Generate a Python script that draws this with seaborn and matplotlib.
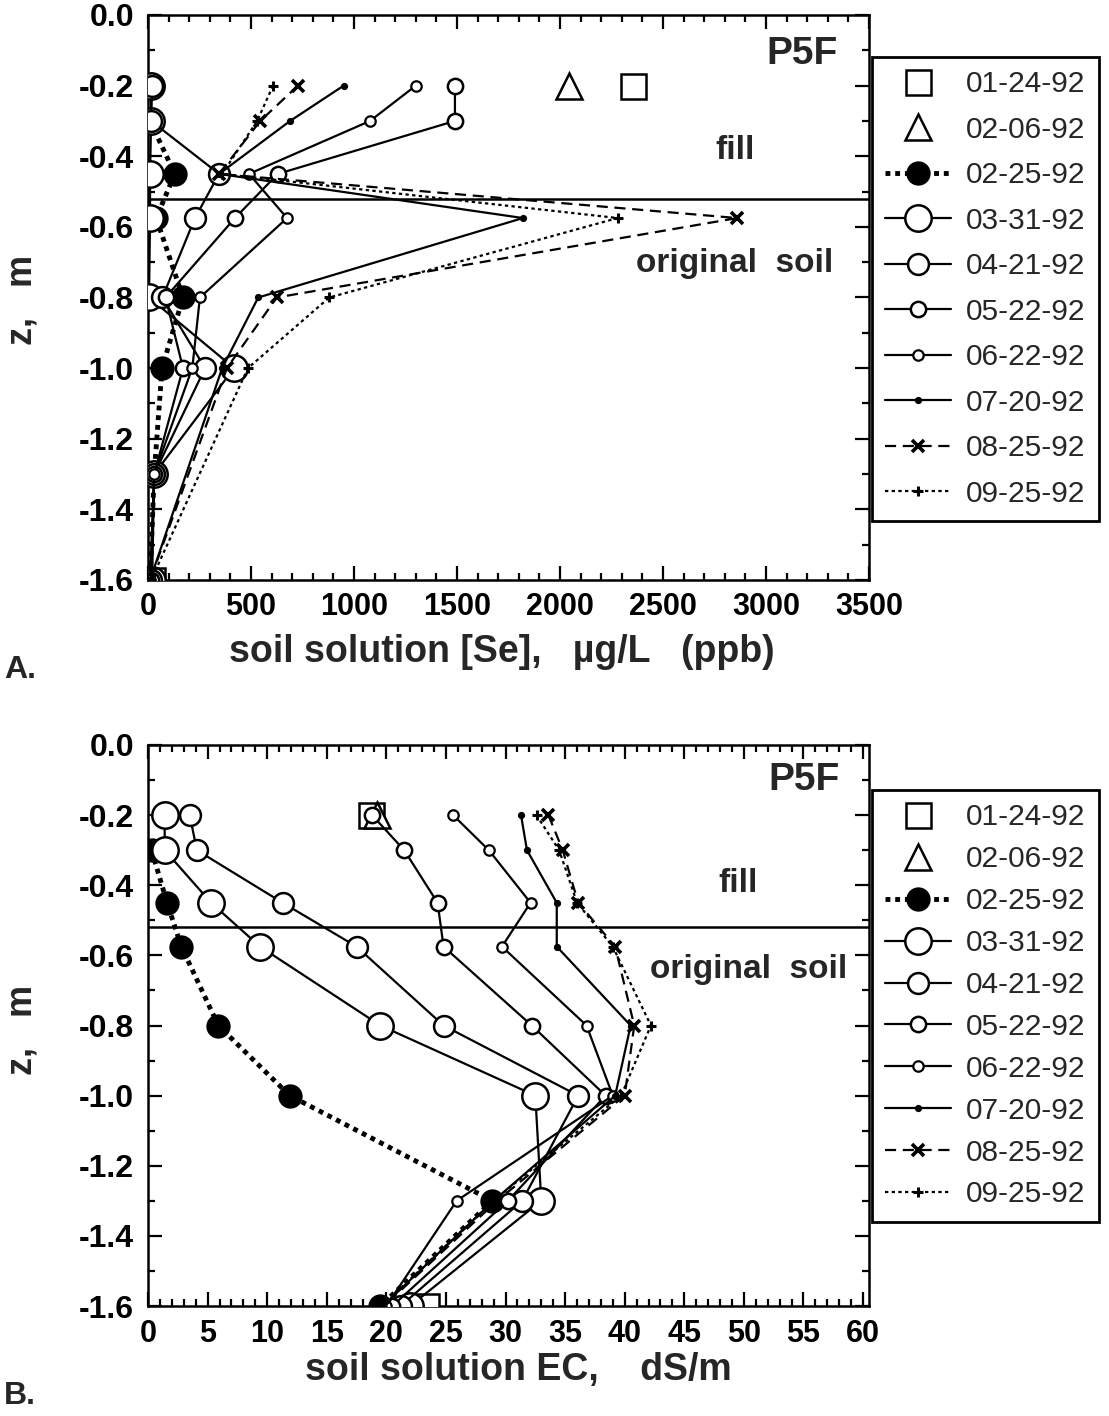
import numpy as np
import pandas as pd
import matplotlib
matplotlib.use("Agg")
import matplotlib.pyplot as plt
import seaborn as sns
from matplotlib.lines import Line2D
from matplotlib.ticker import MultipleLocator, FormatStrFormatter

nan = np.nan

# sampling dates and lysimeter depths (m)
DATES = ["01-24-92", "02-06-92", "02-25-92", "03-31-92", "04-21-92",
         "05-22-92", "06-22-92", "07-20-92", "08-25-92", "09-25-92"]
DEPTHS = [-0.2, -0.3, -0.45, -0.575, -0.8, -1.0, -1.3, -1.6]

# panel A: soil solution [Se], ug/L
se_0124 = [2355, nan, nan, nan, nan, nan, nan, 18]
se_0206 = [2045, nan, nan, nan, nan, nan, nan, nan]
se_0225 = [nan, 10, 130, 40, 170, 68, 30, 10]
se_0331 = [15, 15, 10, 10, 5, 418, 30, 20]
se_0421 = [20, 15, 345, 228, 70, 277, 30, 15]
se_0522 = [1490, 1490, 630, 422, 85, 170, 30, 15]
se_0622 = [1300, 1078, 490, 675, 252, 215, 30, 10]
se_0720 = [950, 690, 345, 1820, 535, 360, nan, 10]
se_0825 = [728, 545, 345, 2860, 625, 383, nan, 10]
se_0925 = [607, 530, 360, 2280, 880, 485, nan, 15]

# panel B: soil solution EC, dS/m
ec_0124 = [18.7, nan, nan, nan, nan, nan, nan, 23.3]
ec_0206 = [19.2, nan, nan, nan, nan, nan, nan, nan]
ec_0225 = [nan, 0.3, 1.6, 2.8, 5.9, 11.9, 28.9, 19.5]
ec_0331 = [1.4, 1.4, 5.3, 9.4, 19.5, 32.5, 33.0, 22.0]
ec_0421 = [3.5, 4.1, 11.3, 17.5, 24.8, 36.1, 31.4, 21.2]
ec_0522 = [18.8, 21.5, 24.3, 24.8, 32.2, 38.4, 30.2, 20.5]
ec_0622 = [25.6, 28.6, 32.1, 29.7, 36.8, 39.0, 25.9, 20.0]
ec_0720 = [31.3, 31.8, 34.3, 34.3, 40.5, 39.2, 29.0, 19.7]
ec_0825 = [33.6, 34.8, 36.1, 39.2, 40.8, 40.0, 29.3, 19.8]
ec_0925 = [32.6, 34.5, 36.0, 39.0, 42.2, 39.7, 29.0, 19.6]

SE_SERIES = [se_0124, se_0206, se_0225, se_0331, se_0421,
             se_0522, se_0622, se_0720, se_0825, se_0925]
EC_SERIES = [ec_0124, ec_0206, ec_0225, ec_0331, ec_0421,
             ec_0522, ec_0622, ec_0720, ec_0825, ec_0925]

STYLES = [
    dict(marker="s", ms=18, mfc="white", ls="none", mew=1.8),
    dict(marker="^", ms=19, mfc="white", ls="none", mew=1.8),
    dict(marker="o", ms=16, mfc="black", ls=(0, (1, 1)), lw=3.5, mew=1.5),
    dict(marker="o", ms=19, mfc="white", ls="-", lw=1.6, mew=1.8),
    dict(marker="o", ms=15, mfc="white", ls="-", lw=1.6, mew=1.8),
    dict(marker="o", ms=11, mfc="white", ls="-", lw=1.6, mew=1.8),
    dict(marker="o", ms=7.5, mfc="white", ls="-", lw=1.6, mew=1.6),
    dict(marker="o", ms=4, mfc="black", ls="-", lw=1.6, mew=1.2),
    dict(marker="x", ms=8, mfc="black", ls=(0, (5, 3)), lw=1.6, mew=2.6),
    dict(marker="+", ms=7, mfc="black", ls=(0, (1.5, 1.5)), lw=1.6, mew=2.2),
]

sns.set_style("ticks")
plt.rcParams["font.family"] = ["Liberation Sans", "DejaVu Sans"]
plt.rcParams["font.weight"] = "bold"
plt.rcParams["axes.unicode_minus"] = False

fig = plt.figure(figsize=(11.09, 14.16), dpi=100)
W, H = 1109, 1416


def fx(px):
    return px / W


def fy(py):
    return 1 - py / H


ax_a = fig.add_axes([fx(148), fy(580), fx(869) - fx(148), fy(15) - fy(580)])
ax_b = fig.add_axes([fx(148), fy(1306), fx(869) - fx(148), fy(745) - fy(1306)])


def draw_panel(ax, series, xlim, xmajor, xminor):
    ax.axhline(-0.52, color="black", lw=1.8, zorder=1)
    for vals, st in zip(series, STYLES):
        df = pd.DataFrame({"x": vals, "z": DEPTHS}).dropna()
        sns.lineplot(data=df, x="x", y="z", sort=False, estimator=None, ax=ax,
                     color="black", marker=st["marker"], markersize=st["ms"],
                     markerfacecolor=st["mfc"], markeredgecolor="black",
                     markeredgewidth=st["mew"], linestyle=st["ls"],
                     linewidth=st.get("lw", 1.5), zorder=3)
    ax.set_xlim(*xlim)
    ax.set_ylim(-1.6, 0.0)
    ax.xaxis.set_major_locator(MultipleLocator(xmajor))
    ax.xaxis.set_minor_locator(MultipleLocator(xminor))
    ax.yaxis.set_major_locator(MultipleLocator(0.2))
    ax.yaxis.set_minor_locator(MultipleLocator(0.1))
    ax.yaxis.set_major_formatter(FormatStrFormatter("%.1f"))
    ax.tick_params(which="both", direction="in", top=True, right=True,
                   width=1.6, colors="black")
    ax.tick_params(which="major", length=10)
    ax.tick_params(which="minor", length=5)
    ax.tick_params(axis="x", labelsize=22, pad=9)
    ax.tick_params(axis="y", labelsize=23, pad=10)
    ax.set_xlabel("")
    ax.set_ylabel("")
    for sp in ax.spines.values():
        sp.set_linewidth(1.8)
        sp.set_color("black")


draw_panel(ax_a, SE_SERIES, (0, 3500), 500, 100)
draw_panel(ax_b, EC_SERIES, (0, 60.5), 5, 1)

# annotations in each panel
ax_a.text(3350, -0.11, "P5F", fontsize=28, ha="right", va="center")
ax_a.text(2850, -0.385, "fill", fontsize=24, ha="center", va="center")
ax_a.text(2850, -0.705, "original  soil", fontsize=24, ha="center", va="center")
ax_b.text(58.0, -0.1, "P5F", fontsize=28, ha="right", va="center")
ax_b.text(49.5, -0.395, "fill", fontsize=24, ha="center", va="center")
ax_b.text(50.4, -0.64, "original  soil", fontsize=24, ha="center", va="center")

fig.text(fx(502), fy(652), "soil solution [Se],   \u00b5g/L   (ppb)",
         fontsize=27, ha="center", va="center")
fig.text(fx(518), fy(1370), "soil solution EC,    dS/m",
         fontsize=27, ha="center", va="center")
fig.text(fx(22), fy(300), "z,   m", fontsize=26, rotation=90,
         ha="center", va="center")
fig.text(fx(22), fy(1030), "z,   m", fontsize=26, rotation=90,
         ha="center", va="center")
fig.text(fx(4), fy(670), "A.", fontsize=23, ha="left", va="center")
fig.text(fx(4), fy(1396), "B.", fontsize=23, ha="left", va="center")

handles = [
    Line2D([], [], color="black", marker=st["marker"], markersize=st["ms"],
           markerfacecolor=st["mfc"], markeredgecolor="black",
           markeredgewidth=st["mew"], linestyle=st["ls"],
           linewidth=st.get("lw", 1.5))
    for st in STYLES
]

for top_px, spacing in [(57, 0.585), (790, 0.465)]:
    leg = fig.legend(handles, DATES, loc="upper left",
                     bbox_to_anchor=(fx(872), fy(top_px)), borderaxespad=0,
                     frameon=True, fancybox=False, edgecolor="black",
                     framealpha=1, numpoints=1, handlelength=2.2,
                     handletextpad=0.5, borderpad=0.45, labelspacing=spacing,
                     prop={"size": 21.5, "weight": "normal"})
    leg.get_frame().set_linewidth(2.0)

fig.savefig("out.png", dpi=100)
